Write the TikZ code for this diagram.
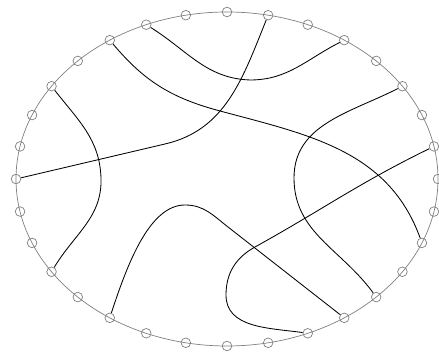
\documentclass[tikz,border=0pt]{standalone}
\begin{document}
\begin{tikzpicture}[x=0.025cm, y=0.025cm,
    rim/.style={draw=gray, line width=0.5pt},
    port/.style={draw=gray, circle, inner sep=0pt, minimum size=0.24cm, line width=0.5pt},
    link/.style={line width=0.6pt}]
  \useasboundingbox (0,0) rectangle (439,352);
  \draw[rim] (227,173) ellipse [x radius=211, y radius=167];
  \foreach \k in {0,...,31}
    \node[port] (p\k) at ({227+211*cos(\k*11.25)},{173+167*sin(\k*11.25)}) {};
  \draw[link] (p10) to[out=-32,in=178] (250,272) to[out=0,in=-153] (p5);
  \draw[link] (p11) to[out=-50,in=165] (220,241) to[out=-15,in=110] (p30);
  \draw[link] (p21) .. controls (128,90) and (150,147) .. (185,147) to[out=0,in=142] (228,125) -- (p27);
  \draw[link] (p13) to[out=-52,in=92] (101,174) to[out=-88,in=59] (p19);
  \draw[link] (p7) to[out=-112,in=13] (165,208) -- (p16);
  \draw[link] (p3) to[out=-153,in=90] (294,174) to[out=-90,in=126] (p28);
  \draw[link] (p1) to[out=-154,in=29] (255,105) to[out=-151,in=90] (226,57) to[out=-90,in=172] (p26);
\end{tikzpicture}
\end{document}
